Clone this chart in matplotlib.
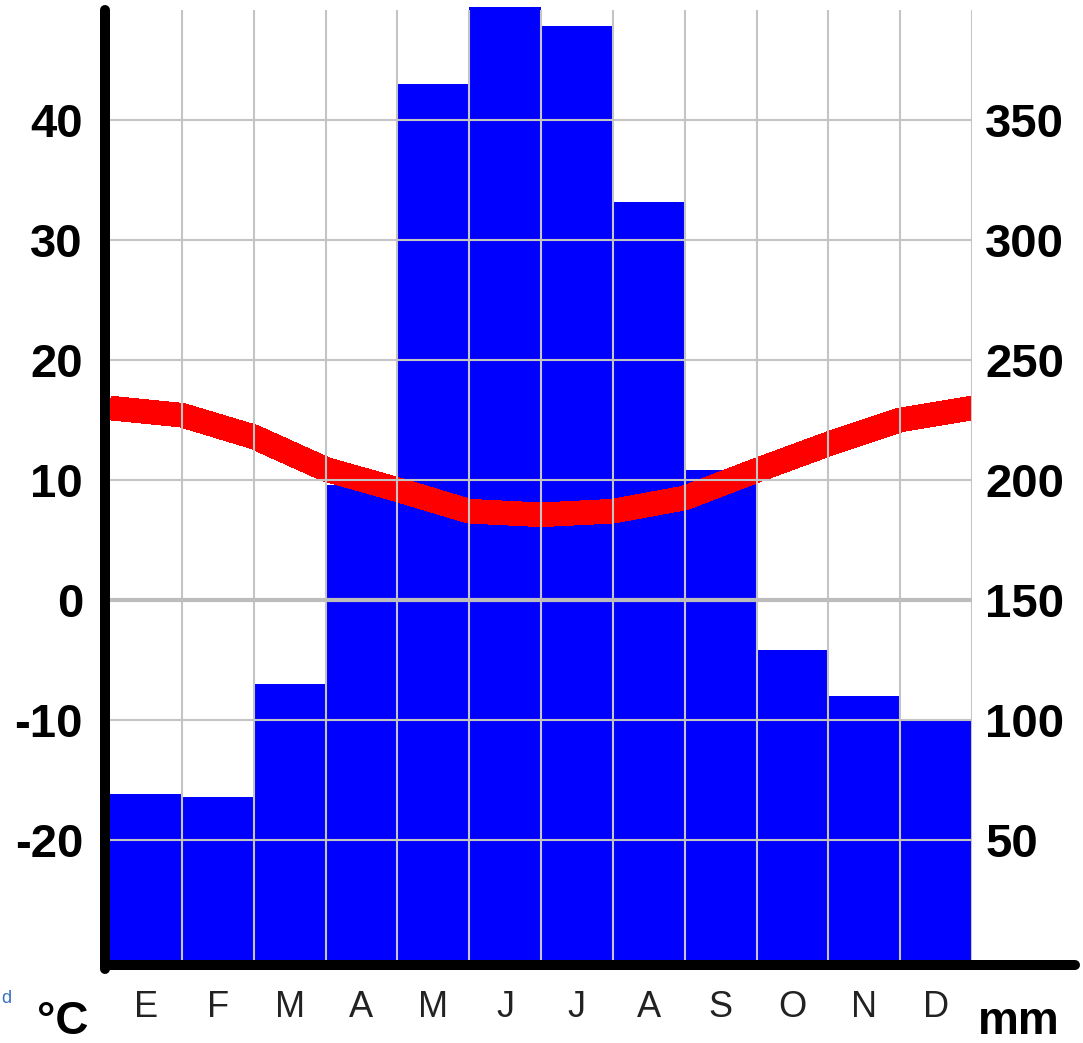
import matplotlib
matplotlib.use("Agg")
import matplotlib.pyplot as plt
import numpy as np

# climate data
months = ["E", "F", "M", "A", "M", "J", "J", "A", "S", "O", "N", "D"]
precip_mm = [69, 68, 115, 198, 365, 397, 389, 316, 204, 129, 110, 100]
temp_c = [16.0, 15.4, 13.6, 10.9, 9.2, 7.4, 7.1, 7.4, 8.5, 10.8, 13.0, 15.0]
temp_ticks = [-20, -10, 0, 10, 20, 30, 40]
mm_ticks = [50, 100, 150, 200, 250, 300, 350]

plt.rcParams["font.family"] = ["Liberation Sans", "DejaVu Sans"]

W, H = 1083, 1043
fig = plt.figure(figsize=(W / 100, H / 100), dpi=100)

# pixel layout: x 110..972, y 5..960
ax = fig.add_axes([110 / W, (H - 960) / H, 862 / W, 955 / H])
ax.set_xlim(0, 12)
mm_top = (960 - 5) * 50 / 120
ax.set_ylim(0, mm_top)

ax2 = ax.twinx()
ax2.set_ylim(-30, -30 + 955 / 12)

# precipitation bars
ax.bar(np.arange(12), precip_mm, width=1, align="edge", color="#0000ff",
       edgecolor="none", zorder=1)

# temperature line (closes back on January)
tx = np.arange(13)
ty = temp_c + [temp_c[0]]
ax2.plot(tx, ty, color="#ff0000", lw=17, solid_capstyle="butt",
         solid_joinstyle="round", antialiased=False, zorder=2)

# grid drawn on top of everything
grid_top = (600 - 10) / 12
ax2.vlines(np.arange(1, 13), -30, grid_top, color="#c4c4c4", lw=1.5, zorder=5)
ax2.hlines([t for t in temp_ticks if t != 0], 0, 12, color="#c4c4c4", lw=1.5, zorder=5)
ax2.hlines(0, 0, 12, color="#bdbdbd", lw=3, zorder=5)

# axes styling
for s in ["top", "right"]:
    ax.spines[s].set_visible(False)
for s in ax2.spines.values():
    s.set_visible(False)
for s in ["left", "bottom"]:
    ax.spines[s].set_linewidth(7.2)
    ax.spines[s].set_color("black")
    ax.spines[s].set_position(("outward", 3.6))
    ax.spines[s].set_capstyle("round")
ax.spines["left"].set_bounds(-3.75, (960 - 10) * 50 / 120)
ax.spines["bottom"].set_bounds(-0.07, 13.43)

ax.set_xticks(np.arange(12) + 0.5, months)
ax.tick_params(axis="x", length=0, pad=18, labelsize=26, labelcolor="#222222")

ax.yaxis.tick_right()
ax.set_yticks(mm_ticks, [str(v) for v in mm_ticks], fontsize=34, fontweight="bold")
ax.tick_params(axis="y", length=0, pad=9.4)

ax2.yaxis.tick_left()
ax2.set_yticks(temp_ticks, [str(v) for v in temp_ticks], fontsize=34, fontweight="bold")
ax2.tick_params(axis="y", length=0, pad=19.4)

fig.text(37 / W, (H - 1034) / H, "°C", fontsize=33, fontweight="bold", va="baseline")
fig.text(978 / W, (H - 1034) / H, "mm", fontsize=33, fontweight="bold", va="baseline")
fig.text(1 / W, (H - 1003) / H, "d", fontsize=13, color="#3a6fc4", va="baseline")

fig.savefig("out.png", dpi=100)
